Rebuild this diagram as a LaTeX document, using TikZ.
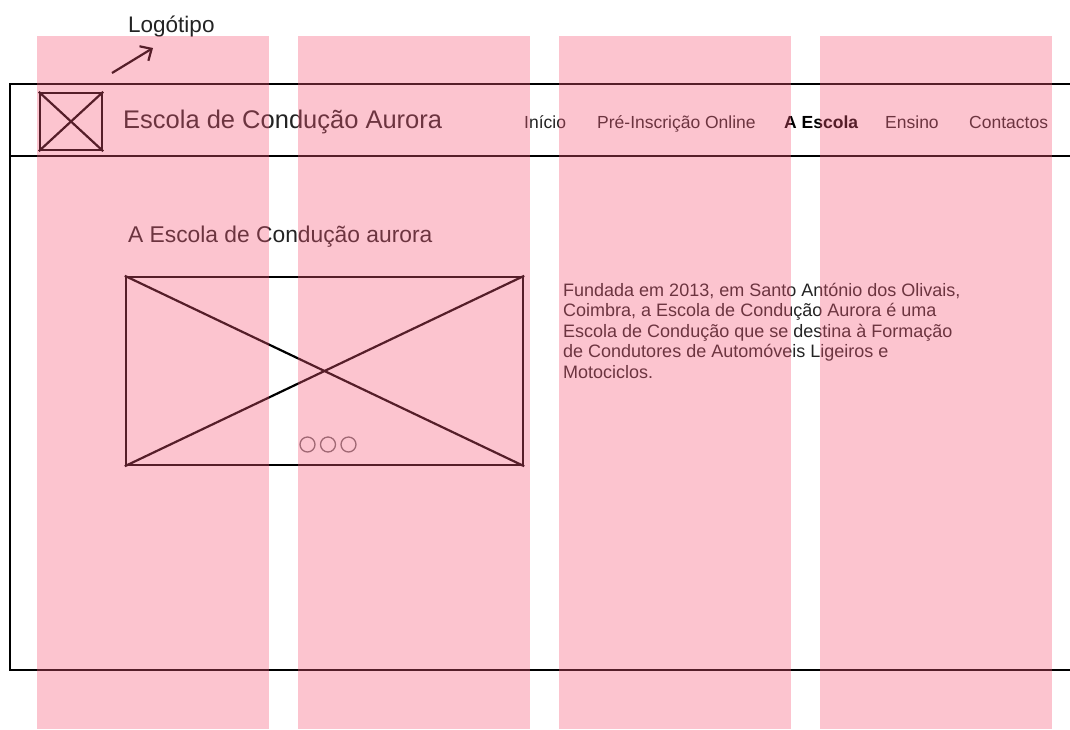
\documentclass[tikz,border=0pt]{standalone}
\usepackage{fontspec}
\setmainfont{Liberation Sans}
\usepackage{xcolor}
\usepackage{tikz}
\usetikzlibrary{calc}
\usetikzlibrary{arrows.meta}
\usetikzlibrary{positioning}
\definecolor{colpink}{RGB}{246,86,118}
\definecolor{inkgray}{RGB}{35,35,35}
\tikzset{>=latex}
\tikzstyle{frame} = [draw = black, line width = 2.4pt]
\tikzstyle{wire} = [draw = black, line width = 2.2pt]
\tikzstyle{dot} = [draw = black!55, line width = 1.3pt]
\tikzstyle{txt} = [inner sep = 0, anchor = base west, text = inkgray]
\tikzstyle{gridcol} = [fill = colpink, fill opacity = 0.35]
\newcommand{\fsz}[1]{\fontsize{#1}{#1}\selectfont}

\begin{document}
\begin{tikzpicture}[x=1pt, y=-1pt]
\useasboundingbox (0, 0) rectangle (1070, 729);
% page frame
\coordinate (ftl) at (10, 84);
\coordinate (fml) at (10, 156);
\coordinate (fbl) at (10, 670);
\coordinate (ftr) at (1070, 84);
\coordinate (fmr) at (1070, 156);
\coordinate (fbr) at (1070, 670);
\draw [frame] (ftr) -- (ftl) -- (fbl) -- (fbr);
\draw [frame] (fml) -- (fmr);
% logo
\node [draw = black, line width = 2.4pt, minimum width = 62pt, minimum height = 57pt, inner sep = 0] (logo) at (71, 121.5) {};
\draw [wire] (logo.north west) -- (logo.south east);
\draw [wire] (logo.north east) -- (logo.south west);
\node [txt, font = \fsz{22.5}] (logolbl) at (128, 32) {Logótipo};
\coordinate (arrtail) at (112, 73);
\coordinate (arrhead) at (153, 48);
\draw [wire, -{Straight Barb[length = 9pt, width = 17pt]}] (arrtail) -- (arrhead);
\node [txt, font = \fsz{25.5}] (brand) at (123, 128) {Escola de Condução Aurora};
% menu
\node [txt, font = \fsz{17.5}] (mInicio) at (524, 128) {Início};
\node [txt, font = \fsz{17.5}] (mPre) at (597, 128) {Pré-Inscrição Online};
\node [txt, font = \fsz{17.5}\bfseries, text = black] (mEscola) at (784, 128) {A Escola};
\node [txt, font = \fsz{17.5}] (mEnsino) at (885, 128) {Ensino};
\node [txt, font = \fsz{17.5}] (mContactos) at (969, 128) {Contactos};
% content
\node [txt, font = \fsz{22.8}] (heading) at (128, 242) {A Escola de Condução aurora};
\node [draw = black, line width = 2.4pt, minimum width = 397pt, minimum height = 188pt, inner sep = 0] (slide) at (324.5, 371) {};
\draw [wire] (slide.north west) -- (slide.south east);
\draw [wire] (slide.north east) -- (slide.south west);
\node [dot, circle, minimum size = 15pt, inner sep = 0] (dotA) at (307.5, 444.5) {};
\node [dot, circle, minimum size = 15pt, inner sep = 0] (dotB) at (328, 444.5) {};
\node [dot, circle, minimum size = 15pt, inner sep = 0] (dotC) at (348.5, 444.5) {};
\node [txt, font = \fontsize{18}{20.4}\selectfont, align = left] (about) at (563, 378.1) {Fundada em 2013, em Santo António dos Olivais,\\Coimbra, a Escola de Condução Aurora é uma\\Escola de Condução que se destina à Formação\\de Condutores de Automóveis Ligeiros e\\Motociclos.};
% grid columns
\foreach \cx in {37, 298, 559, 820}
  \fill [gridcol] (\cx, 36) rectangle ++(232, 693);
\end{tikzpicture}
\end{document}
